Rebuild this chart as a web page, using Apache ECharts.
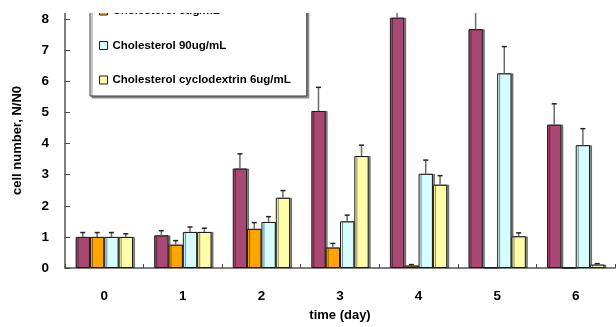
<!DOCTYPE html>
<html>
<head>
<meta charset="utf-8">
<script src="https://cdn.jsdelivr.net/npm/echarts@6/dist/echarts.min.js"></script>
<style>html,body{margin:0;padding:0;background:#fff}#c{width:616px;height:327px}</style>
</head>
<body>
<div id="c"></div>
<script>
var categories = ['0', '1', '2', '3', '4', '5', '6'];
var seriesNames = ['Control', 'Cholesterol 6ug/mL', 'Cholesterol 90ug/mL', 'Cholesterol cyclodextrin 6ug/mL'];
var controlVals = [1.0, 1.05, 3.2, 5.05, 8.05, 7.68, 4.61];
var controlErr  = [0.14, 0.15, 0.47, 0.76, 0.4, 0.7, 0.67];
var chol6Vals   = [1.0, 0.75, 1.26, 0.66, 0.08, 0.02, 0.01];
var chol6Err    = [0.14, 0.13, 0.2, 0.13, 0.03, 0, 0];
var chol90Vals  = [1.0, 1.16, 1.48, 1.50, 3.03, 6.26, 3.95];
var chol90Err   = [0.14, 0.16, 0.17, 0.2, 0.44, 0.86, 0.53];
var cycloVals   = [1.0, 1.16, 2.26, 3.6, 2.68, 1.02, 0.11];
var cycloErr    = [0.1, 0.12, 0.23, 0.35, 0.29, 0.11, 0.03];
var yTicks = [0, 1, 2, 3, 4, 5, 6, 7, 8];

var colors = ['#A94872', '#FFA500', '#D6FCFD', '#FFFDAA'];
var allVals = [controlVals, chol6Vals, chol90Vals, cycloVals];
var allErr = [controlErr, chol6Err, chol90Err, cycloErr];
var GAP = 0.27;

var series = [];
allVals.forEach(function (vals, k) {
  series.push({
    name: seriesNames[k], type: 'bar', data: vals,
    barGap: 0, barCategoryGap: (GAP * 100) + '%',
    itemStyle: {
      color: colors[k], borderColor: '#1a1a1a', borderWidth: 1,
      shadowColor: 'rgba(0,0,0,0.45)', shadowOffsetX: 2, shadowOffsetY: 0, shadowBlur: 0
    },
    emphasis: {disabled: true},
    z: 2
  });
});
allVals.forEach(function (vals, k) {
  series.push({
    name: seriesNames[k] + ' err', type: 'custom', clip: true, z: 3,
    data: vals.map(function (v, i) { return [i, v, allErr[k][i]]; }),
    encode: {x: 0, y: 1},
    renderItem: function (params, api) {
      var x = api.value(0), v = api.value(1), e = api.value(2);
      if (!(e > 0)) return null;
      var p0 = api.coord([x, v]);
      var p1 = api.coord([x, v + e]);
      var band = api.size([1, 0])[0];
      var bw = band * (1 - GAP) / 4;
      var cx = p0[0] + (k - 1.5) * bw;
      return {
        type: 'group',
        children: [
          {type: 'line', shape: {x1: cx, y1: p0[1], x2: cx, y2: p1[1]}, style: {stroke: '#6a6a6a', lineWidth: 1.5}},
          {type: 'line', shape: {x1: cx - 2.5, y1: p1[1], x2: cx + 2.5, y2: p1[1]}, style: {stroke: '#222', lineWidth: 1.5}}
        ]
      };
    }
  });
});

var chart = echarts.init(document.getElementById('c'), null, {renderer: 'canvas'});
chart.setOption({
  animation: false,
  textStyle: {fontFamily: 'Liberation Sans, Arial, sans-serif'},
  grid: {left: 65, right: 1, top: 13, bottom: 55, containLabel: false},
  legend: {
    data: seriesNames.slice(1),
    orient: 'vertical', left: 90, top: -6,
    padding: [10, 16, 9, 9],
    itemWidth: 8, itemHeight: 8, itemGap: 20.5,
    icon: 'rect',
    itemStyle: {borderColor: '#222', borderWidth: 1, shadowBlur: 0, shadowOffsetX: 0},
    textStyle: {fontSize: 11.5, fontWeight: 'bold', color: '#000', lineHeight: 14, fontFamily: 'Liberation Sans, Arial, sans-serif'},
    backgroundColor: '#fff', borderColor: '#333', borderWidth: 1,
    shadowColor: '#8a8a8a', shadowOffsetX: 2, shadowOffsetY: 2, shadowBlur: 0,
    selectedMode: false
  },
  xAxis: {
    type: 'category', data: categories,
    name: 'time (day)', nameLocation: 'middle', nameGap: 41,
    nameTextStyle: {fontSize: 13, fontWeight: 'bold', color: '#000'},
    axisLine: {lineStyle: {color: '#555', width: 1.5}},
    axisTick: {show: true, inside: true, length: 4, lineStyle: {color: '#444'}},
    axisLabel: {fontSize: 13.5, fontWeight: 'bold', color: '#000', margin: 21}
  },
  yAxis: {
    type: 'value', min: 0, max: 8.2, interval: 1,
    name: 'cell number, N/N0', nameLocation: 'middle', nameGap: 41,
    nameTextStyle: {fontSize: 13, fontWeight: 'bold', color: '#000'},
    axisLine: {show: true, lineStyle: {color: '#555', width: 1.5}},
    axisTick: {show: true, inside: true, length: 5, lineStyle: {color: '#444'}, customValues: yTicks},
    axisLabel: {fontSize: 13.5, fontWeight: 'bold', color: '#000', margin: 16, customValues: yTicks},
    splitLine: {show: false}
  },
  graphic: [{type: 'rect', left: 0, top: 0, z: 100, shape: {width: 616, height: 13}, style: {fill: '#fff'}}],
  series: series
});
</script>
</body>
</html>
